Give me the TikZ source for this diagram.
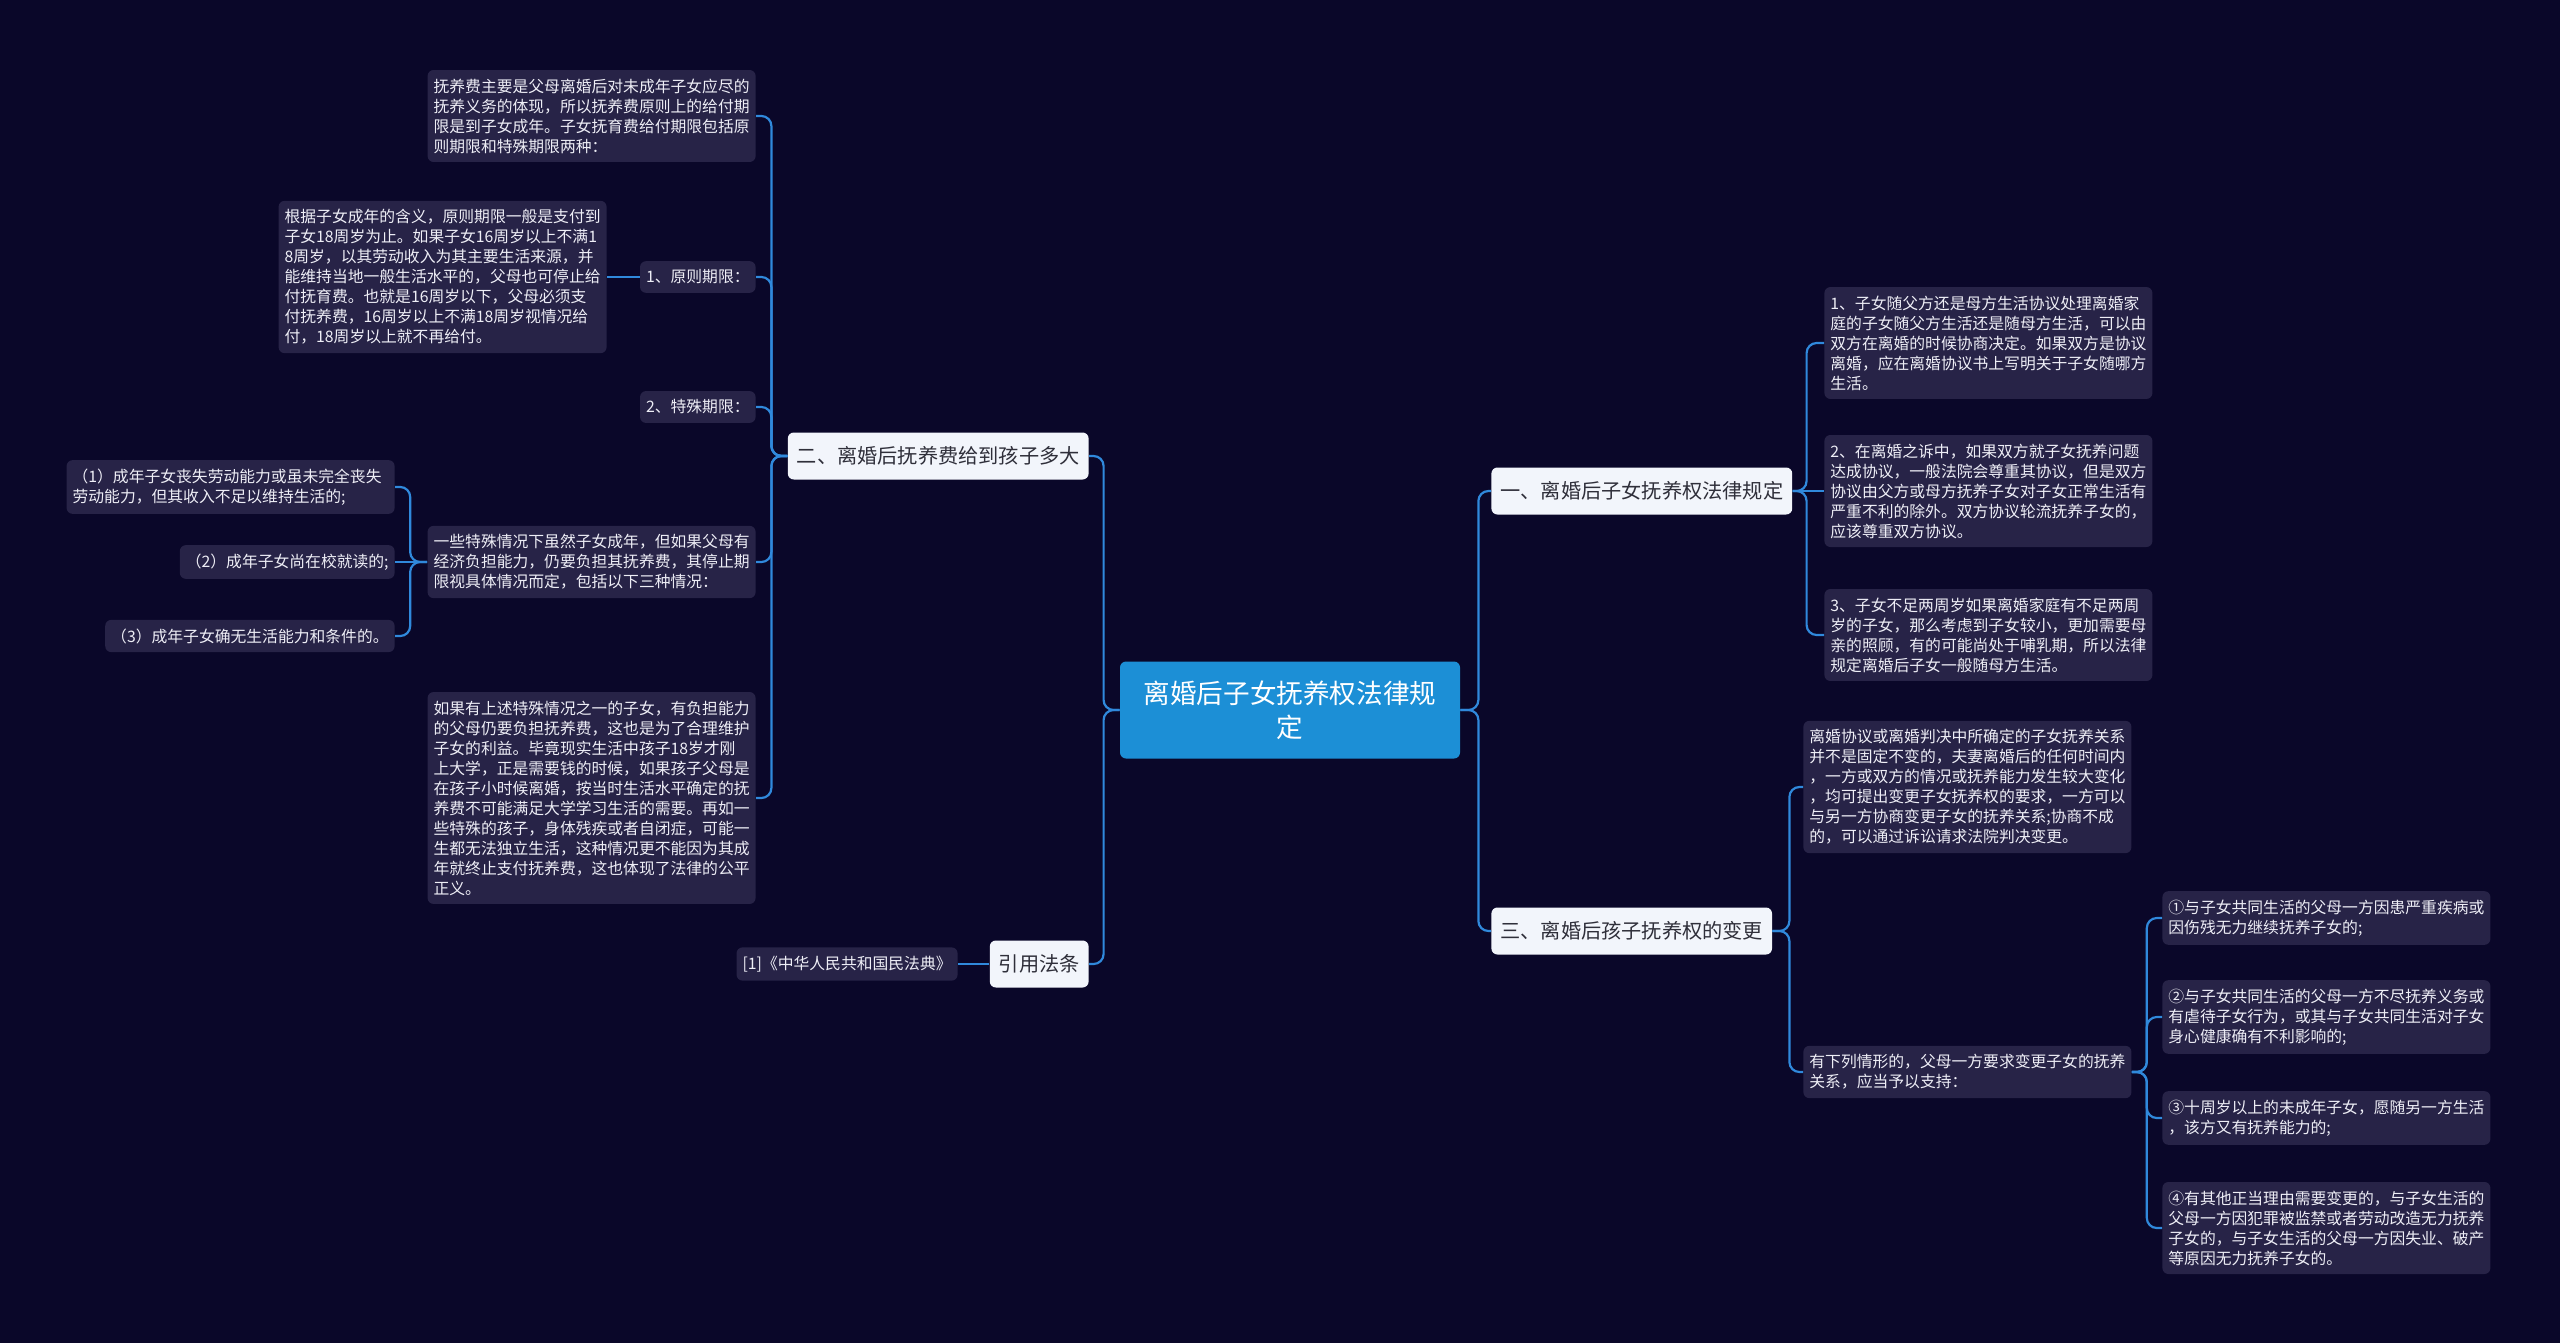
\documentclass[tikz,border=0pt]{standalone}
\usepackage{fontspec}
\setmainfont{Noto Sans CJK SC}
\usepackage{tikz}
\definecolor{bgcol}{HTML}{0A0729}
\definecolor{leafcol}{HTML}{272347}
\definecolor{leaftext}{HTML}{EEEEF6}
\definecolor{topiccol}{HTML}{F2F5FB}
\definecolor{topictext}{HTML}{2F2F3A}
\definecolor{rootcol}{HTML}{1C8FD6}
\definecolor{linecol}{HTML}{3089DC}
\begin{document}
\begin{tikzpicture}[x=0.5pt,y=-0.5pt,
    leaf/.style={fill=leafcol, text=leaftext, rounded corners=3pt, inner xsep=3pt, inner ysep=4.3pt, font=\fontsize{7.9}{10}\selectfont},
    note/.style={leaf, text width=158pt, align=left},
    topic/.style={fill=topiccol, text=topictext, rounded corners=3pt, inner xsep=4.5pt, minimum height=23.5pt, font=\fontsize{10.1}{12}\selectfont},
    root/.style={fill=rootcol, text=white, rounded corners=3pt, text width=150pt, align=center, minimum height=48.5pt, inner xsep=10pt, font=\fontsize{13.3}{17}\selectfont},
    link/.style={draw=linecol, line width=1.1pt, rounded corners=5pt}]
    \fill [bgcol] (0,0) rectangle (2560,1343);
    \useasboundingbox (0,0) rectangle (2560,1343);
    \draw (1290,710) node [root] (root) {离婚后子女抚养权法律规\\定};
    \draw (1089,456) node [topic, anchor=east] (two) {二、离婚后抚养费给到孩子多大};
    \draw (1089,964) node [topic, anchor=east] (cite) {引用法条};
    \draw (1491,491) node [topic, anchor=west] (one) {一、离婚后子女抚养权法律规定};
    \draw (1491,931) node [topic, anchor=west] (three) {三、离婚后孩子抚养权的变更};
    \draw (958,964) node [leaf, anchor=east] (ref) {[1]《中华人民共和国民法典》};
    \draw (756,116) node [note, anchor=east] (fee) {抚养费主要是父母离婚后对未成年子女应尽的\\抚养义务的体现，所以抚养费原则上的给付期\\限是到子女成年。子女抚育费给付期限包括原\\则期限和特殊期限两种：};
    \draw (756,277) node [leaf, anchor=east] (pa) {1、原则期限：};
    \draw (607,277) node [note, anchor=east] (pac) {根据子女成年的含义，原则期限一般是支付到\\子女18周岁为止。如果子女16周岁以上不满1\\8周岁，以其劳动收入为其主要生活来源，并\\能维持当地一般生活水平的，父母也可停止给\\付抚育费。也就是16周岁以下，父母必须支\\付抚养费，16周岁以上不满18周岁视情况给\\付，18周岁以上就不再给付。};
    \draw (756,407) node [leaf, anchor=east] (pb) {2、特殊期限：};
    \draw (756,562) node [note, anchor=east] (sp) {一些特殊情况下虽然子女成年，但如果父母有\\经济负担能力，仍要负担其抚养费，其停止期\\限视具体情况而定，包括以下三种情况：};
    \draw (395,487) node [note, anchor=east] (sa) {（1）成年子女丧失劳动能力或虽未完全丧失\\劳动能力，但其收入不足以维持生活的;};
    \draw (395,562) node [leaf, anchor=east] (sb) {（2）成年子女尚在校就读的;};
    \draw (395,636) node [leaf, anchor=east] (sc) {（3）成年子女确无生活能力和条件的。};
    \draw (756,798) node [note, anchor=east] (ifs) {如果有上述特殊情况之一的子女，有负担能力\\的父母仍要负担抚养费，这也是为了合理维护\\子女的利益。毕竟现实生活中孩子18岁才刚\\上大学，正是需要钱的时候，如果孩子父母是\\在孩子小时候离婚，按当时生活水平确定的抚\\养费不可能满足大学学习生活的需要。再如一\\些特殊的孩子，身体残疾或者自闭症，可能一\\生都无法独立生活，这种情况更不能因为其成\\年就终止支付抚养费，这也体现了法律的公平\\正义。};
    \draw (1824,343) node [note, anchor=west] (ra) {1、子女随父方还是母方生活协议处理离婚家\\庭的子女随父方生活还是随母方生活，可以由\\双方在离婚的时候协商决定。如果双方是协议\\离婚，应在离婚协议书上写明关于子女随哪方\\生活。};
    \draw (1824,491) node [note, anchor=west] (rb) {2、在离婚之诉中，如果双方就子女抚养问题\\达成协议，一般法院会尊重其协议，但是双方\\协议由父方或母方抚养子女对子女正常生活有\\严重不利的除外。双方协议轮流抚养子女的，\\应该尊重双方协议。};
    \draw (1824,635) node [note, anchor=west] (rc) {3、子女不足两周岁如果离婚家庭有不足两周\\岁的子女，那么考虑到子女较小，更加需要母\\亲的照顾，有的可能尚处于哺乳期，所以法律\\规定离婚后子女一般随母方生活。};
    \draw (1803,787) node [note, anchor=west] (chg) {离婚协议或离婚判决中所确定的子女抚养关系\\并不是固定不变的，夫妻离婚后的任何时间内\\，一方或双方的情况或抚养能力发生较大变化\\，均可提出变更子女抚养权的要求，一方可以\\与另一方协商变更子女的抚养关系;协商不成\\的，可以通过诉讼请求法院判决变更。};
    \draw (1803,1072) node [note, anchor=west] (cases) {有下列情形的，父母一方要求变更子女的抚养\\关系，应当予以支持：};
    \draw (2162,918) node [note, anchor=west] (ka) {①与子女共同生活的父母一方因患严重疾病或\\因伤残无力继续抚养子女的;};
    \draw (2162,1017) node [note, anchor=west] (kb) {②与子女共同生活的父母一方不尽抚养义务或\\有虐待子女行为，或其与子女共同生活对子女\\身心健康确有不利影响的;};
    \draw (2162,1118) node [note, anchor=west] (kc) {③十周岁以上的未成年子女，愿随另一方生活\\，该方又有抚养能力的;};
    \draw (2162,1228) node [note, anchor=west] (kd) {④有其他正当理由需要变更的，与子女生活的\\父母一方因犯罪被监禁或者劳动改造无力抚养\\子女的，与子女生活的父母一方因失业、破产\\等原因无力抚养子女的。};
    \draw [link] (root.east) -- ++(18,0) |- (one.west);
    \draw [link] (root.east) -- ++(18,0) |- (three.west);
    \draw [link] (root.west) -- ++(-16,0) |- (two.east);
    \draw [link] (root.west) -- ++(-16,0) |- (cite.east);
    \draw [link] (cite.west) -- (ref.east);
    \draw [link] (two.west) -- ++(-16,0) |- (fee.east);
    \draw [link] (two.west) -- ++(-16,0) |- (pa.east);
    \draw [link] (two.west) -- ++(-16,0) |- (pb.east);
    \draw [link] (two.west) -- ++(-16,0) |- (sp.east);
    \draw [link] (two.west) -- ++(-16,0) |- (ifs.east);
    \draw [link] (pa.west) -- (pac.east);
    \draw [link] (sp.west) -- ++(-17,0) |- (sa.east);
    \draw [link] (sp.west) -- (sb.east);
    \draw [link] (sp.west) -- ++(-17,0) |- (sc.east);
    \draw [link] (one.east) -- ++(14,0) |- (ra.west);
    \draw [link] (one.east) -- (rb.west);
    \draw [link] (one.east) -- ++(14,0) |- (rc.west);
    \draw [link] (three.east) -- ++(17,0) |- (chg.west);
    \draw [link] (three.east) -- ++(17,0) |- (cases.west);
    \draw [link] (cases.east) -- ++(15,0) |- (ka.west);
    \draw [link] (cases.east) -- ++(15,0) |- (kb.west);
    \draw [link] (cases.east) -- ++(15,0) |- (kc.west);
    \draw [link] (cases.east) -- ++(15,0) |- (kd.west);
\end{tikzpicture}
\end{document}
